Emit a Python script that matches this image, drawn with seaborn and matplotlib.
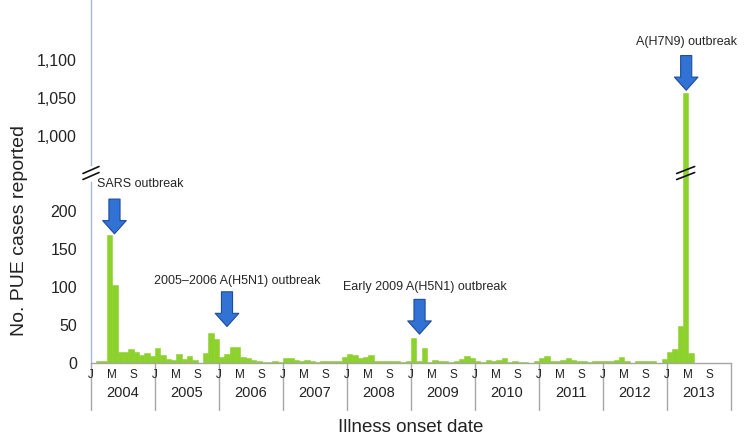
import pandas as pd
import seaborn as sns
import matplotlib.pyplot as plt
from matplotlib import transforms
from matplotlib.lines import Line2D


years = [2004, 2005, 2006, 2007, 2008, 2009, 2010, 2011, 2012, 2013]
month_letters = ["J", "M", "S"]
lower_ticks = [0, 50, 100, 150, 200]
upper_ticks = [1000, 1050, 1100]

cases_2004 = [0, 3, 3, 168, 102, 14, 15, 18, 15, 11, 13, 9]
cases_2005 = [20, 11, 5, 4, 12, 5, 9, 4, 0, 13, 40, 31]
cases_2006 = [8, 12, 21, 21, 8, 6, 4, 2, 1, 1, 2, 1]
cases_2007 = [7, 6, 4, 3, 4, 3, 1, 2, 2, 2, 2, 8]
cases_2008 = [12, 11, 6, 8, 11, 3, 3, 3, 2, 3, 1, 3]
cases_2009 = [33, 2, 20, 1, 4, 2, 3, 1, 2, 5, 9, 6]
cases_2010 = [3, 1, 4, 2, 4, 7, 1, 2, 1, 1, 0, 2]
cases_2011 = [6, 9, 2, 3, 4, 6, 4, 3, 2, 1, 2, 2]
cases_2012 = [2, 3, 4, 8, 2, 0, 3, 3, 3, 3, 0, 5]
cases_2013 = [15, 19, 49, 1057, 13]

all_cases = (cases_2004 + cases_2005 + cases_2006 + cases_2007 + cases_2008
             + cases_2009 + cases_2010 + cases_2011 + cases_2012 + cases_2013)
df = pd.DataFrame({"month": range(len(all_cases)), "cases": all_cases})

GREEN = "#8dd12c"
TICK_BLUE = "#3d7fd9"
SPINE_BLUE = "#a3b9d8"
GREY = "#a6a6a6"
ARROW_BLUE = "#3272d4"
ARROW_EDGE = "#1d4c9c"

sns.set_theme(style="white")
plt.rcParams["font.family"] = ["Liberation Sans", "DejaVu Sans"]

W, H = 750, 448
fig = plt.figure(figsize=(7.5, 4.48), dpi=100)


def box(left, top, right, bottom):
    return [left / W, 1 - bottom / H, (right - left) / W, (bottom - top) / H]


ax_top = fig.add_axes(box(91, 0, 731, 173))
ax_low = fig.add_axes(box(91, 173, 731, 363))

for ax in (ax_top, ax_low):
    sns.barplot(data=df, x="month", y="cases", native_scale=True, width=1,
                color=GREEN, saturation=1, errorbar=None,
                edgecolor=GREEN, linewidth=0.4, ax=ax)
    ax.set_xlim(-0.5, 119.5)
    ax.set_xlabel("")
    ax.set_ylabel("")
    ax.set_xticks([])
    for side in ("top", "right", "bottom"):
        ax.spines[side].set_visible(False)
    ax.spines["left"].set_color(SPINE_BLUE)
    ax.spines["left"].set_linewidth(1)
    ax.tick_params(axis="y", direction="inout", length=6, width=1.6,
                   color=TICK_BLUE, labelsize=11.5, labelcolor="#222222", pad=7)

ax_top.set_ylim(951, 1179)
ax_top.set_yticks(upper_ticks)
ax_top.set_yticklabels([f"{v:,}" for v in upper_ticks])
ax_top.spines["left"].set_bounds(962, 1179)

ax_low.set_ylim(0, 250)
ax_low.set_yticks(lower_ticks)
ax_low.spines["left"].set_bounds(0, 238)
ax_low.spines["bottom"].set_visible(True)
ax_low.spines["bottom"].set_color(GREY)
ax_low.spines["bottom"].set_linewidth(1)

# month / year labels under the axis
trans = transforms.blended_transform_factory(ax_low.transData, fig.transFigure)
for k, year in enumerate(years):
    start = 12 * k - 0.5
    for j, letter in enumerate(month_letters):
        ax_low.text(start + 4 * j, 1 - 375 / H, letter, transform=trans,
                    ha="center", va="center", fontsize=8.5, color="#222222")
    ax_low.text(start + 6, 1 - 393 / H, str(year), transform=trans,
                ha="center", va="center", fontsize=10.5, color="#222222")
for k in range(len(years) + 1):
    ax_low.add_line(Line2D([12 * k - 0.5] * 2, [1 - 363 / H, 1 - 410 / H],
                           transform=trans, color=GREY, lw=1, clip_on=False))

fig.text(20 / W, 1 - 230 / H, "No. PUE cases reported", rotation=90,
         ha="center", va="center", fontsize=14, color="#222222")
fig.text(411 / W, 1 - 427 / H, "Illness onset date",
         ha="center", va="center", fontsize=13.5, color="#222222")

# outbreak arrows and labels
arrow_style = "simple,head_length=0.95,head_width=1.7,tail_width=0.8"
arrows = [(ax_low, 3.9, 170), (ax_low, 25.0, 48), (ax_low, 61.1, 38), (ax_top, 111.1, 1060)]
for ax, x, tip in arrows:
    ax.annotate("", xy=(x, tip), xytext=(0, 25), textcoords="offset points",
                arrowprops=dict(arrowstyle=arrow_style, mutation_scale=10,
                                fc=ARROW_BLUE, ec=ARROW_EDGE, lw=0.8,
                                shrinkA=0, shrinkB=0))

ax_low.text(0.6, 235, "SARS outbreak", ha="left", va="center", fontsize=9)
ax_low.text(11.3, 108, "2005\u20132006 A(H5N1) outbreak", ha="left", va="center", fontsize=9)
ax_low.text(46.8, 100, "Early 2009 A(H5N1) outbreak", ha="left", va="center", fontsize=9)
ax_top.text(111.1, 1123, "A(H7N9) outbreak", ha="center", va="center", fontsize=9)

# break marks on the y axis and on the tall bar
bar_x = ax_low.transData.transform((111, 0))[0]
for cx, half in ((91, 8), (bar_x, 9)):
    for off in (-3, 3):
        xs = [(cx - half) / W, (cx + half) / W]
        ys = [1 - (173 + off + 3.5) / H, 1 - (173 + off - 3.5) / H]
        fig.add_artist(Line2D(xs, ys, color="#111111", lw=1.2))

fig.savefig("out.png", dpi=100)
